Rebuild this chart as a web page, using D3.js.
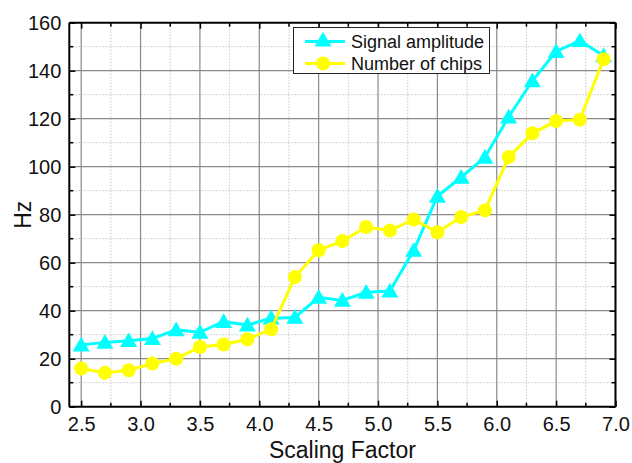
<!DOCTYPE html>
<html><head><meta charset="utf-8">
<script src="https://cdn.jsdelivr.net/npm/d3@7"></script>
<style>
body{margin:0;background:#fff;}
text{font-family:"Liberation Sans",Arial,sans-serif;}
</style></head>
<body>
<svg id="chart" width="632" height="463"></svg>
<script>
const xValues = [2.5,2.7,2.9,3.1,3.3,3.5,3.7,3.9,4.1,4.3,4.5,4.7,4.9,5.1,5.3,5.5,5.7,5.9,6.1,6.3,6.5,6.7,6.9];
const signalAmplitude = [25.7,26.8,27.5,28.4,32,31,35.5,34,36.9,37.2,45.6,44.3,47.7,48.2,65.1,87.7,95.6,103.9,120.7,135.8,148,152.5,146.2];
const numberOfChips = [15.9,14.1,15.2,18,20,24.9,25.9,28.1,32.3,54,65.2,69,74.9,73.4,78,72.7,79,81.8,104,113.9,119,119.6,144.8];
const xTicks = [2.5,3.0,3.5,4.0,4.5,5.0,5.5,6.0,6.5,7.0];
const xMinorTicks = [2.75,3.25,3.75,4.25,4.75,5.25,5.75,6.25,6.75];
const yTicks = [0,20,40,60,80,100,120,140,160];
const yMinorTicks = [10,30,50,70,90,110,130,150];
const seriesNames = ["Signal amplitude","Number of chips"];
const seriesColors = ["#00FFFF","#FFFF00"];

const svg = d3.select("#chart");
const L = 69.3, R = 615.5, T = 22.7, B = 406.7;
const x = d3.scaleLinear().domain([2.4, 7.0]).range([L, R]);
const y = d3.scaleLinear().domain([0, 160]).range([B, T]);

// grid
const g = svg.append("g");
g.selectAll(".xminor").data(xMinorTicks).join("line")
  .attr("x1", d => x(d)).attr("x2", d => x(d)).attr("y1", T).attr("y2", B)
  .attr("stroke", "#c8c8c8").attr("stroke-width", 1).attr("stroke-dasharray", "1.5,1.5");
g.selectAll(".yminor").data(yMinorTicks).join("line")
  .attr("x1", L).attr("x2", R).attr("y1", d => y(d)).attr("y2", d => y(d))
  .attr("stroke", "#c8c8c8").attr("stroke-width", 1).attr("stroke-dasharray", "1.5,1.5");
g.selectAll(".xmajor").data(xTicks).join("line")
  .attr("x1", d => x(d)).attr("x2", d => x(d)).attr("y1", T).attr("y2", B)
  .attr("stroke", "#8a8a8a").attr("stroke-width", 1.2);
g.selectAll(".ymajor").data(yTicks.slice(1, -1)).join("line")
  .attr("x1", L).attr("x2", R).attr("y1", d => y(d)).attr("y2", d => y(d))
  .attr("stroke", "#8a8a8a").attr("stroke-width", 1.2);

// minor ticks
function minorTicks(vals, isX){
  const m = svg.append("g");
  vals.forEach(v => {
    if (isX){
      m.append("line").attr("x1", x(v)).attr("x2", x(v)).attr("y1", B).attr("y2", B-4).attr("stroke","#000").attr("stroke-width",1.5);
      m.append("line").attr("x1", x(v)).attr("x2", x(v)).attr("y1", T).attr("y2", T+4).attr("stroke","#000").attr("stroke-width",1.5);
    } else {
      m.append("line").attr("x1", L).attr("x2", L+4).attr("y1", y(v)).attr("y2", y(v)).attr("stroke","#000").attr("stroke-width",1.5);
      m.append("line").attr("x1", R).attr("x2", R-4).attr("y1", y(v)).attr("y2", y(v)).attr("stroke","#000").attr("stroke-width",1.5);
    }
  });
}
minorTicks(xMinorTicks, true);
minorTicks(yMinorTicks, false);

// axes
const fmtX = d3.format(".1f");
const xAxis = svg.append("g").attr("transform", `translate(0,${B})`)
  .call(d3.axisBottom(x).tickValues(xTicks).tickFormat(fmtX).tickSizeInner(-6).tickSizeOuter(0).tickPadding(10));
const xAxisTop = svg.append("g").attr("transform", `translate(0,${T})`)
  .call(d3.axisTop(x).tickValues(xTicks).tickFormat("").tickSizeInner(-6).tickSizeOuter(0));
const yAxis = svg.append("g").attr("transform", `translate(${L},0)`)
  .call(d3.axisLeft(y).tickValues(yTicks).tickSizeInner(-6).tickSizeOuter(0).tickPadding(8));
const yAxisRight = svg.append("g").attr("transform", `translate(${R},0)`)
  .call(d3.axisRight(y).tickValues(yTicks).tickFormat("").tickSizeInner(-6).tickSizeOuter(0));
[xAxis, xAxisTop, yAxis, yAxisRight].forEach(a => {
  a.select(".domain").attr("stroke", "#000").attr("stroke-width", 2);
  a.selectAll(".tick line").attr("stroke", "#000").attr("stroke-width", 1.5);
  a.selectAll("text").attr("font-size", 20).attr("fill", "#111")
    .style("font-family", '"Liberation Sans",Arial,sans-serif');
});
// extend domains to full frame
xAxis.select(".domain").attr("d", `M${L},0H${R}`);
xAxisTop.select(".domain").attr("d", `M${L},0H${R}`);
yAxis.select(".domain").attr("d", `M0,${B}V${T}`);
yAxisRight.select(".domain").attr("d", `M0,${B}V${T}`);

// axis titles
svg.append("text").attr("x", (L + R) / 2).attr("y", 458).attr("text-anchor", "middle")
  .attr("font-size", 23).attr("fill", "#111").text("Scaling Factor");
svg.append("text").attr("transform", `translate(31,${(T + B) / 2}) rotate(-90)`)
  .attr("text-anchor", "middle").attr("font-size", 23).attr("fill", "#111").text("Hz");

// series
const seriesData = [signalAmplitude, numberOfChips];
const line = d3.line().x((d, i) => x(xValues[i])).y(d => y(d));
const tri = d3.symbol().type(d3.symbolTriangle).size(125);
seriesData.forEach((vals, si) => {
  const s = svg.append("g");
  s.append("path").datum(vals).attr("d", line).attr("fill", "none")
    .attr("stroke", seriesColors[si]).attr("stroke-width", 3);
  if (si === 0) {
    s.selectAll("path.m").data(vals).join("path").attr("class", "m")
      .attr("transform", (d, i) => `translate(${x(xValues[i])},${y(d) + 1.5})`)
      .attr("d", tri).attr("fill", seriesColors[si]);
  } else {
    s.selectAll("circle").data(vals).join("circle")
      .attr("cx", (d, i) => x(xValues[i])).attr("cy", d => y(d)).attr("r", 7)
      .attr("fill", seriesColors[si]);
  }
});

// legend
const lg = svg.append("g");
lg.append("rect").attr("x", 293.5).attr("y", 27.5).attr("width", 196).attr("height", 46)
  .attr("fill", "#fff").attr("stroke", "#222").attr("stroke-width", 1);
seriesNames.forEach((name, i) => {
  const cy = 41.5 + i * 22;
  lg.append("line").attr("x1", 305).attr("x2", 345).attr("y1", cy).attr("y2", cy)
    .attr("stroke", seriesColors[i]).attr("stroke-width", 3);
  if (i === 0) {
    lg.append("path").attr("transform", `translate(323,${cy})`).attr("d", tri).attr("fill", seriesColors[i]);
  } else {
    lg.append("circle").attr("cx", 323).attr("cy", cy).attr("r", 7).attr("fill", seriesColors[i]);
  }
  lg.append("text").attr("x", 351).attr("y", cy + 6.5).attr("font-size", 18).attr("fill", "#111").text(name);
});
</script>
</body></html>
